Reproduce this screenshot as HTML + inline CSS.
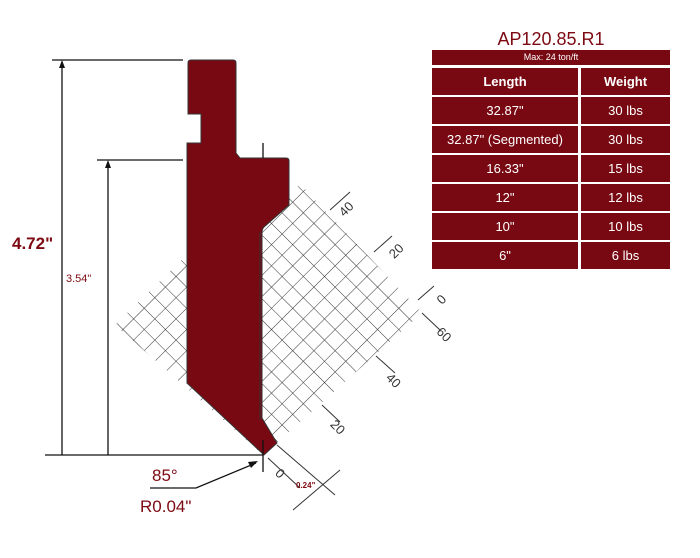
<!DOCTYPE html>
<html><head><style>
body{margin:0;background:#fff;width:700px;height:558px;overflow:hidden;font-family:"Liberation Sans",sans-serif;}
.row{position:absolute;left:432px;height:27px;}
.c{position:absolute;top:0;height:27px;background:#780812;color:#fff;font-size:13px;line-height:27px;text-align:center;}
</style></head><body>
<svg width="700" height="558" style="position:absolute;left:0;top:0">
<defs>
<pattern id="h" width="15" height="15" patternUnits="userSpaceOnUse" patternTransform="rotate(45 263 455)">
<path d="M0 0H15M0 0V15" stroke="#333" stroke-width="1" fill="none"/>
</pattern>
</defs>
<polygon points="263,455 115,325 255,188 302,186 422,313" fill="url(#h)"/>
<g stroke="#333" stroke-width="1">
<line x1="330" y1="210" x2="350" y2="192"/><line x1="374" y1="252" x2="392" y2="236"/><line x1="418" y1="300" x2="434" y2="286"/>
<line x1="422" y1="313" x2="440" y2="330"/><line x1="376" y1="356" x2="395" y2="373"/><line x1="322" y1="405" x2="340" y2="422"/><line x1="268" y1="458" x2="300" y2="488"/>
<line x1="340" y1="470" x2="293" y2="510"/><line x1="277" y1="445" x2="335" y2="495"/>
</g>
<g font-size="13" fill="#333">
<text x="338" y="214" transform="rotate(-45 345 208)">40</text>
<text x="388" y="256" transform="rotate(-45 395 250)">20</text>
<text x="437" y="303" transform="rotate(-45 442 298)">0</text>
<text x="436" y="340" transform="rotate(45 445 336)">60</text>
<text x="385" y="385" transform="rotate(45 393 382)">40</text>
<text x="330" y="432" transform="rotate(45 338 428)">20</text>
<text x="276" y="478" transform="rotate(45 280 474)">0</text>
<text x="296" y="488" font-size="8" fill="#7d0a12" font-weight="bold">0.24"</text>
</g>
<path d="M191 60 H233 Q236 60 236 63 V153 L240 158 H286 Q289 158 289 161 V205 L264 227 Q262 229 262 233 V418 L277 443 L264 455 L187 383 V143 H201 V114 H188 V63 Q188 60 191 60 Z" fill="#780812" stroke="#333" stroke-width="1"/>
<line x1="260" y1="232" x2="260" y2="420" stroke="#333"/>
<g stroke="#111" stroke-width="1.3">
<line x1="52" y1="60" x2="183" y2="60"/><line x1="62" y1="62" x2="62" y2="455"/>
<line x1="97" y1="160" x2="183" y2="160"/><line x1="108" y1="162" x2="108" y2="455"/>
<line x1="45" y1="455" x2="263" y2="455"/>
<line x1="263" y1="440" x2="263" y2="472"/><line x1="263" y1="143" x2="263" y2="158"/>
<polyline points="150,488 196,488 256,463" fill="none"/>
</g>
<polygon points="62,60 59,68 65,68" fill="#111"/><polygon points="108,160 105,168 111,168" fill="#111"/>
<polygon points="258,461 248,462 251,468" fill="#111"/>
<g fill="#7d0a12" font-weight="bold">
<text x="12" y="249" font-size="17">4.72"</text>
<text x="66" y="282" font-size="11" font-weight="normal">3.54"</text>
<text x="152" y="481" font-size="17" font-weight="normal">85°</text>
<text x="140" y="512" font-size="17" font-weight="normal">R0.04"</text>
</g>
<text x="551" y="45" font-size="18" fill="#7d0a12" text-anchor="middle">AP120.85.R1</text>
</svg>
<div class="row" style="top:50px"><div class="c" style="left:0;width:238px;height:15px;line-height:15px;font-size:9px">Max: 24 ton/ft</div></div>
<div class="row" style="top:68px"><div class="c" style="left:0;width:146px;font-weight:bold">Length</div><div class="c" style="left:149px;width:89px;font-weight:bold">Weight</div></div>
<div class="row" style="top:97px"><div class="c" style="left:0;width:146px">32.87"</div><div class="c" style="left:149px;width:89px">30 lbs</div></div>
<div class="row" style="top:126px"><div class="c" style="left:0;width:146px">32.87" (Segmented)</div><div class="c" style="left:149px;width:89px">30 lbs</div></div>
<div class="row" style="top:155px"><div class="c" style="left:0;width:146px">16.33"</div><div class="c" style="left:149px;width:89px">15 lbs</div></div>
<div class="row" style="top:184px"><div class="c" style="left:0;width:146px">12"</div><div class="c" style="left:149px;width:89px">12 lbs</div></div>
<div class="row" style="top:213px"><div class="c" style="left:0;width:146px">10"</div><div class="c" style="left:149px;width:89px">10 lbs</div></div>
<div class="row" style="top:242px"><div class="c" style="left:0;width:146px">6"</div><div class="c" style="left:149px;width:89px">6 lbs</div></div>
</body></html>
